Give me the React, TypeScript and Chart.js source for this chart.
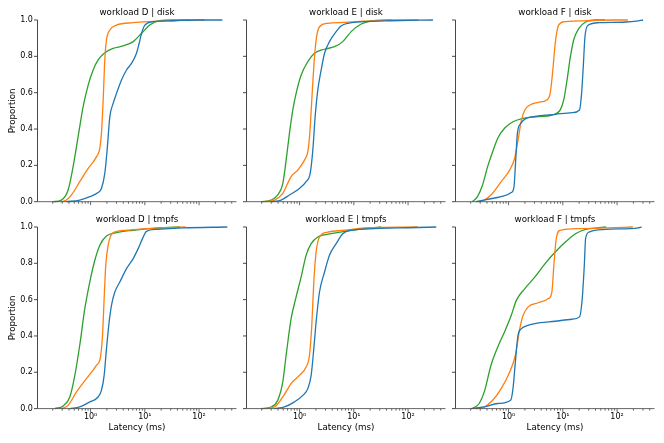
import { useEffect, useRef } from "react";
import { Chart, registerables } from "chart.js";

Chart.register(...registerables);

type Pt = [number, number];

// ---------- data: [latency (ms), cumulative proportion] ----------
const seriesLabels = ["series 1", "series 2", "series 3"];
const seriesColors = ["#1f77b4", "#ff7f0e", "#2ca02c"];

const dDiskBlue: Pt[] = [[0.359, 0], [0.631, 0.009], [0.968, 0.028], [1.377, 0.05], [1.585, 0.073], [1.828, 0.156], [2.018, 0.284], [2.265, 0.468], [2.606, 0.541], [3.006, 0.596], [3.715, 0.67], [4.592, 0.725], [5.675, 0.761], [7.015, 0.817], [7.87, 0.872], [8.71, 0.927], [10, 0.972], [14.26, 0.991], [33.1, 0.996], [100, 1], [269, 1]];
const dDiskOrange: Pt[] = [[0.29, 0], [0.359, 0.009], [0.444, 0.037], [0.631, 0.11], [0.902, 0.183], [1.288, 0.248], [1.479, 0.294], [1.585, 0.376], [1.706, 0.56], [1.828, 0.78], [1.963, 0.89], [2.265, 0.945], [3.006, 0.972], [6.095, 0.985], [12.3, 0.991], [33.1, 0.996], [77.6, 1], [126, 1]];
const dDiskGreen: Pt[] = [[0.204, 0], [0.29, 0.009], [0.385, 0.064], [0.476, 0.193], [0.589, 0.358], [0.729, 0.523], [0.902, 0.642], [1.114, 0.725], [1.377, 0.78], [1.828, 0.82], [2.606, 0.844], [3.981, 0.857], [6.095, 0.881], [8.71, 0.927], [12.3, 0.972], [18.9, 0.996], [33.1, 1], [67.6, 1]];

const dTmpfsBlue: Pt[] = [[0.414, 0], [0.631, 0.009], [0.968, 0.037], [1.377, 0.064], [1.585, 0.1], [1.778, 0.183], [1.963, 0.33], [2.198, 0.477], [2.427, 0.569], [2.8, 0.642], [3.459, 0.697], [4.592, 0.771], [6.095, 0.826], [7.534, 0.881], [9.057, 0.936], [10.72, 0.976], [16.4, 0.987], [50.9, 0.995], [331, 1]];
const dTmpfsOrange: Pt[] = [[0.29, 0], [0.385, 0.018], [0.55, 0.092], [0.839, 0.165], [1.288, 0.239], [1.521, 0.284], [1.66, 0.404], [1.778, 0.606], [1.905, 0.789], [2.109, 0.9], [2.606, 0.969], [4.592, 0.982], [10.72, 0.991], [33.1, 0.998], [56.2, 1]];
const dTmpfsGreen: Pt[] = [[0.219, 0], [0.312, 0.015], [0.414, 0.064], [0.512, 0.183], [0.631, 0.349], [0.782, 0.55], [0.966, 0.697], [1.197, 0.817], [1.479, 0.9], [1.963, 0.95], [3.006, 0.969], [6.095, 0.982], [12.3, 0.991], [44.3, 1]];

const eDiskBlue: Pt[] = [[0.299, 0], [0.457, 0.009], [0.65, 0.037], [0.995, 0.073], [1.318, 0.11], [1.567, 0.156], [1.754, 0.284], [1.936, 0.468], [2.168, 0.615], [2.5, 0.725], [2.884, 0.817], [3.556, 0.881], [4.721, 0.936], [5.834, 0.967], [7.762, 0.982], [15.74, 0.991], [49, 0.996], [288, 1]];
const eDiskOrange: Pt[] = [[0.224, 0], [0.344, 0.009], [0.49, 0.046], [0.698, 0.138], [0.927, 0.174], [1.23, 0.229], [1.419, 0.275], [1.542, 0.376], [1.679, 0.56], [1.828, 0.743], [2.018, 0.89], [2.328, 0.963], [3.311, 0.982], [6.73, 0.987], [15.74, 0.994], [49, 1], [158, 1]];
const eDiskGreen: Pt[] = [[0.195, 0], [0.299, 0.009], [0.396, 0.037], [0.49, 0.1], [0.565, 0.229], [0.65, 0.376], [0.75, 0.505], [0.863, 0.596], [1.069, 0.697], [1.419, 0.771], [1.884, 0.817], [2.884, 0.839], [4.406, 0.853], [6.266, 0.881], [8.933, 0.936], [13.68, 0.978], [20.89, 0.994], [49, 1]];

const eTmpfsBlue: Pt[] = [[0.344, 0], [0.526, 0.009], [0.805, 0.037], [1.148, 0.073], [1.419, 0.11], [1.633, 0.183], [1.828, 0.33], [2.018, 0.477], [2.328, 0.642], [2.884, 0.752], [3.556, 0.844], [4.721, 0.908], [6.266, 0.963], [8.913, 0.982], [23.99, 0.991], [99, 0.996], [331, 1]];
const eTmpfsOrange: Pt[] = [[0.224, 0], [0.344, 0.009], [0.49, 0.064], [0.698, 0.138], [0.995, 0.183], [1.318, 0.229], [1.521, 0.294], [1.679, 0.459], [1.828, 0.697], [2.018, 0.862], [2.328, 0.945], [3.311, 0.972], [6.73, 0.982], [15.74, 0.995], [151, 1]];
const eTmpfsGreen: Pt[] = [[0.195, 0], [0.299, 0.009], [0.396, 0.046], [0.49, 0.147], [0.565, 0.294], [0.698, 0.495], [0.863, 0.615], [1.069, 0.725], [1.318, 0.844], [1.633, 0.908], [2.168, 0.945], [3.802, 0.963], [8.913, 0.982], [20.89, 0.995], [31.6, 1]];

const fDiskBlue: Pt[] = [[0.249, 0], [0.411, 0.013], [0.729, 0.028], [1.122, 0.05], [1.259, 0.083], [1.352, 0.229], [1.452, 0.376], [1.675, 0.431], [2.138, 0.459], [3.532, 0.472], [7.244, 0.481], [14.79, 0.49], [20.32, 0.505], [22.18, 0.596], [23.82, 0.743], [25.59, 0.908], [29.5, 0.972], [46.8, 0.985], [147, 0.989], [226, 0.994], [302, 1]];
const fDiskOrange: Pt[] = [[0.267, 0], [0.356, 0.009], [0.474, 0.037], [0.729, 0.11], [1.045, 0.174], [1.294, 0.239], [1.493, 0.339], [1.726, 0.45], [1.995, 0.505], [2.472, 0.532], [3.532, 0.547], [5.058, 0.56], [5.834, 0.596], [6.457, 0.706], [7.244, 0.872], [8.356, 0.972], [11.14, 0.991], [30.41, 0.996], [83.2, 1], [158, 1]];
const fDiskGreen: Pt[] = [[0.215, 0], [0.267, 0.028], [0.331, 0.092], [0.411, 0.193], [0.509, 0.275], [0.631, 0.349], [0.841, 0.404], [1.205, 0.44], [1.854, 0.459], [3.532, 0.468], [6.281, 0.477], [8.974, 0.505], [10.38, 0.56], [11.97, 0.67], [13.8, 0.798], [15.85, 0.89], [19.77, 0.954], [26.3, 0.989], [40.5, 1], [60, 1]];

const fTmpfsBlue: Pt[] = [[0.2, 0], [0.356, 0.009], [0.631, 0.028], [1.089, 0.046], [1.205, 0.11], [1.334, 0.257], [1.493, 0.404], [1.726, 0.44], [2.138, 0.455], [3.062, 0.468], [7.244, 0.481], [14.79, 0.492], [20.32, 0.505], [22.8, 0.606], [24.89, 0.789], [26.3, 0.936], [30.41, 0.972], [62.2, 0.987], [170, 0.991], [243, 0.995], [282, 1]];
const fTmpfsOrange: Pt[] = [[0.249, 0], [0.356, 0.009], [0.509, 0.046], [0.729, 0.11], [1.045, 0.2], [1.334, 0.294], [1.607, 0.44], [1.854, 0.514], [2.296, 0.56], [3.532, 0.583], [5.433, 0.606], [6.281, 0.642], [6.839, 0.789], [7.568, 0.936], [8.974, 0.982], [19.77, 0.991], [62.2, 0.995], [195, 1]];
const fTmpfsGreen: Pt[] = [[0.215, 0], [0.287, 0.028], [0.356, 0.092], [0.474, 0.239], [0.631, 0.339], [0.841, 0.422], [1.122, 0.514], [1.39, 0.596], [1.995, 0.661], [3.062, 0.725], [4.71, 0.798], [7.244, 0.862], [11.14, 0.917], [17.14, 0.963], [26.3, 0.987], [46.8, 0.996], [63, 1]];

const panelTitles = [
  "workload D | disk", "workload E | disk", "workload F | disk",
  "workload D | tmpfs", "workload E | tmpfs", "workload F | tmpfs",
];
const panelSeries: Pt[][][] = [
  [dDiskBlue, dDiskOrange, dDiskGreen],
  [eDiskBlue, eDiskOrange, eDiskGreen],
  [fDiskBlue, fDiskOrange, fDiskGreen],
  [dTmpfsBlue, dTmpfsOrange, dTmpfsGreen],
  [eTmpfsBlue, eTmpfsOrange, eTmpfsGreen],
  [fTmpfsBlue, fTmpfsOrange, fTmpfsGreen],
];
const yTickValues = [0, 0.2, 0.4, 0.6, 0.8, 1.0];
const xMin = 0.105;
const xMax = 490;
const xLabel = "Latency (ms)";
const yLabel = "Proportion";

// ---------- style / layout ----------
const FONT = "DejaVu Sans";
const TEXT = "#000000";
const COL_LEFT = [0, 209, 418];
const CANVAS_W = 246;
const Y_AXIS_W = 37.5;
const RIGHT_PAD = 9.5;
const ROWS = [
  { top: 0, height: 222, xH: 20.3 },
  { top: 207, height: 236, xH: 34.4 },
];
const SUP: Record<string, string> = { "-": "\u207B", "0": "\u2070", "1": "\u00B9", "2": "\u00B2", "3": "\u00B3" };

const axesPlugin = {
  id: "mplAxes",
  afterDraw(chart: any) {
    const { ctx, chartArea: a, scales } = chart;
    const xs = scales.x;
    const ys = scales.y;
    ctx.save();
    ctx.lineWidth = 0.9;
    ctx.strokeStyle = "#333";
    ctx.beginPath();
    ctx.moveTo(a.left, a.top);
    ctx.lineTo(a.left, a.bottom);
    for (const v of yTickValues) {
      const y = ys.getPixelForValue(v);
      ctx.moveTo(a.left - 3.5, y);
      ctx.lineTo(a.left, y);
    }
    ctx.stroke();
    ctx.strokeStyle = "#555";
    ctx.beginPath();
    ctx.moveTo(a.left, a.bottom);
    ctx.lineTo(a.right, a.bottom);
    for (let k = -2; k <= 3; k++) {
      for (let m = 1; m <= 9; m++) {
        const v = m * Math.pow(10, k);
        if (v < xs.min || v > xs.max) continue;
        const px = xs.getPixelForValue(v);
        ctx.moveTo(px, a.bottom);
        ctx.lineTo(px, a.bottom + (m === 1 ? 3.5 : 2));
      }
    }
    ctx.stroke();
    ctx.restore();
  },
};

function Panel({ index }: { index: number }) {
  const ref = useRef<HTMLCanvasElement | null>(null);
  const col = index % 3;
  const row = Math.floor(index / 3);
  const r = ROWS[row];

  useEffect(() => {
    if (!ref.current) return;
    const series = panelSeries[index];
    const chart = new Chart(ref.current, {
      type: "line",
      data: {
        datasets: series.map((pts, i) => ({
          label: seriesLabels[i],
          data: pts.map(([x, y]) => ({ x, y })),
          borderColor: seriesColors[i],
          backgroundColor: seriesColors[i],
          borderWidth: 1.3,
          pointRadius: 0,
          cubicInterpolationMode: "monotone" as const,
          fill: false,
          clip: 3,
        })),
      },
      options: {
        responsive: false,
        animation: false,
        events: [],
        layout: { padding: { left: 0, right: RIGHT_PAD, top: 0, bottom: 0 } },
        plugins: {
          legend: { display: false },
          tooltip: { enabled: false },
          title: {
            display: true,
            fullSize: false,
            text: panelTitles[index],
            color: TEXT,
            font: { family: FONT, size: 8.7, weight: "normal", lineHeight: 1.2 },
            padding: { top: 8.0, bottom: 1.56 },
          },
        },
        scales: {
          x: {
            type: "logarithmic",
            min: xMin,
            max: xMax,
            grid: { display: false, drawTicks: false, tickLength: 0 },
            border: { display: false },
            afterFit: (s: any) => { s.height = r.xH; },
            ticks: {
              display: row === 1,
              autoSkip: false,
              maxRotation: 0,
              minRotation: 0,
              padding: 3.6,
              color: TEXT,
              font: { family: FONT, size: 8, lineHeight: 1.2 },
              callback: (value: any) => {
                const v = Number(value);
                const l = Math.log10(v);
                const e = Math.round(l);
                if (Math.abs(l - e) > 1e-6) return "";
                return "10" + String(e).split("").map((c) => SUP[c]).join("");
              },
            },
            title: {
              display: row === 1,
              text: xLabel,
              color: TEXT,
              font: { family: FONT, size: 8.7, lineHeight: 1.2 },
              padding: { top: 0, bottom: 10.5 },
            },
          },
          y: {
            type: "linear",
            min: 0,
            max: 1,
            grid: { display: false, drawTicks: false, tickLength: 0 },
            border: { display: false },
            afterFit: (s: any) => { s.width = Y_AXIS_W; },
            ticks: {
              display: col === 0,
              stepSize: 0.2,
              padding: 4.6,
              color: TEXT,
              font: { family: FONT, size: 8, lineHeight: 1.2 },
              callback: (value: any) => Number(value).toFixed(1),
            },
            title: {
              display: col === 0,
              text: yLabel,
              color: TEXT,
              font: { family: FONT, size: 8.7, lineHeight: 1.2 },
              padding: { top: 7.4, bottom: 0 },
            },
          },
        },
      } as any,
      plugins: [axesPlugin],
    });
    return () => chart.destroy();
  }, [index]);

  return (
    <canvas
      ref={ref}
      width={CANVAS_W}
      height={r.height}
      style={{
        position: "absolute",
        left: COL_LEFT[col],
        top: r.top,
        width: CANVAS_W,
        height: r.height,
      }}
    />
  );
}

export default function App() {
  return (
    <div
      style={{
        position: "absolute",
        left: 0,
        top: 0,
        width: 664,
        height: 443,
        background: "#ffffff",
        overflow: "hidden",
      }}
    >
      {[0, 1, 2, 3, 4, 5].map((i) => (
        <Panel key={i} index={i} />
      ))}
    </div>
  );
}
